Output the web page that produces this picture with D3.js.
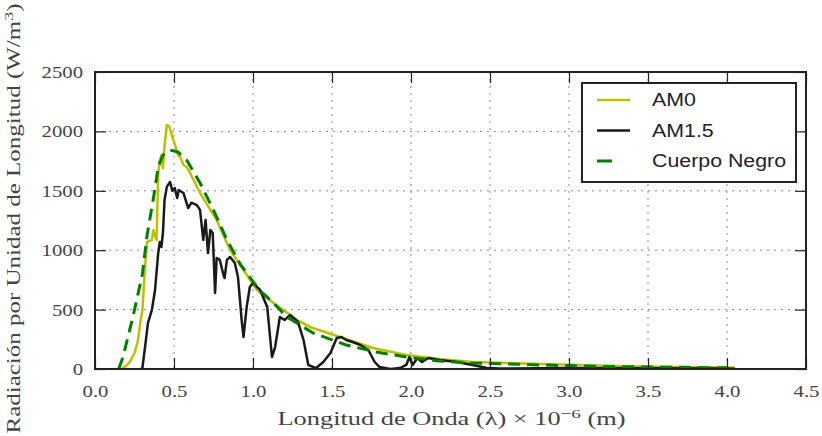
<!DOCTYPE html>
<html>
<head>
<meta charset="utf-8">
<script src="https://cdn.jsdelivr.net/npm/d3@7"></script>
<style>
  body { margin: 0; background: #fff; }
  svg { display: block; }
</style>
</head>
<body>
<div id="chart"></div>
<script>
// >-----------------< Data >-------------------<
const xTicks = [0, 0.5, 1.0, 1.5, 2.0, 2.5, 3.0, 3.5, 4.0, 4.5];
const yTicks = [0, 500, 1000, 1500, 2000, 2500];

// AM0 (fuera de la atmosfera)
const am0Wl = [0.17, 0.20, 0.22, 0.25, 0.27, 0.29, 0.30, 0.32, 0.33, 0.35, 0.36, 0.37, 0.38, 0.39,
  0.40, 0.41, 0.42, 0.43, 0.44, 0.455, 0.47, 0.49, 0.51, 0.525, 0.54, 0.56, 0.58, 0.60, 0.665,
  0.77, 0.855, 0.94, 1.025, 1.13, 1.28, 1.36, 1.55, 1.76, 1.97, 2.18, 2.39, 2.61, 2.82, 3.0,
  3.3, 3.6, 4.0, 4.05];
const am0Val = [0, 30, 59, 135, 227, 420, 497, 918, 1069, 1080, 1086, 1170, 1120, 1086,
  1650, 1750, 1800, 1690, 1880, 2054, 2040, 1953, 1869, 1800, 1785, 1717, 1700, 1655, 1481,
  1254, 1002, 833, 665, 556, 412, 354, 269, 177, 118, 84, 59, 50, 42, 35,
  25, 18, 12, 10];

// AM1.5 (superficie)
const am15Wl = [0.29, 0.30, 0.32, 0.335, 0.36, 0.38, 0.40, 0.41, 0.42, 0.43, 0.44, 0.455, 0.475,
  0.49, 0.505, 0.52, 0.53, 0.56, 0.59, 0.61, 0.645, 0.665, 0.685, 0.70, 0.715, 0.73, 0.745,
  0.76, 0.77, 0.79, 0.81, 0.82, 0.835, 0.855, 0.885, 0.905, 0.93, 0.94, 0.96, 0.98, 1.0,
  1.045, 1.09, 1.12, 1.14, 1.17, 1.20, 1.235, 1.285, 1.32, 1.35, 1.40, 1.445, 1.49, 1.53,
  1.56, 1.59, 1.63, 1.68, 1.73, 1.77, 1.80, 1.87, 1.93, 1.97, 1.99, 2.01, 2.04, 2.07, 2.11,
  2.18, 2.29, 2.39, 2.48, 2.56, 3.0, 3.5, 4.0, 4.05];
const am15Val = [0, 8, 219, 387, 497, 665, 976, 1069, 1027, 1145, 1423, 1535, 1574,
  1500, 1524, 1440, 1507, 1481, 1355, 1400, 1380, 1338, 1086, 1254, 976, 1170, 1145,
  640, 934, 918, 808, 766, 918, 943, 892, 774, 387, 269, 522, 690, 724,
  665, 522, 101, 185, 438, 412, 455, 396, 244, 34, 8, 59, 135, 261,
  269, 244, 227, 202, 160, 59, 17, 0, 8, 34, 101, 34, 93, 59, 93,
  76, 59, 34, 8, 4, 8, 6, 4, 2];

// Cuerpo negro
const bbWl = [0.15, 0.177, 0.24, 0.30, 0.33, 0.37, 0.40, 0.43, 0.475, 0.525, 0.58, 0.665,
  0.75, 0.835, 0.92, 1.04, 1.11, 1.215, 1.38, 1.59, 1.78, 1.97, 2.18, 2.39, 2.61, 2.82,
  3.2, 3.6, 4.0];
const bbVal = [0, 101, 438, 800, 1130, 1440, 1700, 1801, 1843, 1827, 1759, 1566,
  1338, 1086, 880, 665, 581, 438, 303, 202, 143, 101, 67, 50, 42, 34,
  22, 15, 10];

const series = [
  { name: "AM0", wl: am0Wl, val: am0Val, color: "#bfbf00", dash: null, width: 2.5 },
  { name: "AM1.5", wl: am15Wl, val: am15Val, color: "#1a1a1a", dash: null, width: 2.5 },
  { name: "Cuerpo Negro", wl: bbWl, val: bbVal, color: "#008000", dash: "12,7", width: 3 }
];

// >-----------------< Layout >-------------------<
const width = 822, height = 436;
const margin = { top: 72, right: 16, bottom: 67, left: 95 };
const plotW = width - margin.left - margin.right;
const plotH = height - margin.top - margin.bottom;
const serif = "'Liberation Serif', 'Times New Roman', serif";
const sans = "'Liberation Sans', Arial, sans-serif";
const stretch = 1.22; // the reference is wider than tall
const textColor = "#444";

// widen text glyphs like in the reference
function widen(sel, k) {
  sel.each(function () {
    const w = this.getComputedTextLength();
    d3.select(this).attr("textLength", w * k).attr("lengthAdjust", "spacingAndGlyphs");
  });
}

const svg = d3.select("#chart").append("svg")
  .attr("width", width)
  .attr("height", height);

const g = svg.append("g")
  .attr("transform", `translate(${margin.left},${margin.top})`);

const x = d3.scaleLinear().domain([0, 4.5]).range([0, plotW]);
const y = d3.scaleLinear().domain([0, 2500]).range([plotH, 0]);

// Grid
g.append("g").selectAll("line").data(xTicks.slice(1, -1)).enter().append("line")
  .attr("x1", d => x(d)).attr("x2", d => x(d))
  .attr("y1", 0).attr("y2", plotH)
  .attr("stroke", "#8a8a8a").attr("stroke-width", 1).attr("stroke-dasharray", "2,5");
g.append("g").selectAll("line").data(yTicks.slice(1, -1)).enter().append("line")
  .attr("x1", 0).attr("x2", plotW)
  .attr("y1", d => y(d)).attr("y2", d => y(d))
  .attr("stroke", "#8a8a8a").attr("stroke-width", 1).attr("stroke-dasharray", "2,5");

// Curves
svg.append("defs").append("clipPath").attr("id", "plotclip")
  .append("rect").attr("width", plotW).attr("height", plotH);

series.forEach(s => {
  const pts = s.wl.map((w, i) => [w, s.val[i]]);
  g.append("path")
    .datum(pts)
    .attr("clip-path", "url(#plotclip)")
    .attr("fill", "none")
    .attr("stroke", s.color)
    .attr("stroke-width", s.width)
    .attr("stroke-linejoin", "round")
    .attr("stroke-dasharray", s.dash)
    .attr("d", d3.line().x(d => x(d[0])).y(d => y(d[1])));
});

// Axes (ticks inside, all four sides)
const tickLen = 11;
function styleAxis(sel, showText) {
  sel.select(".domain").remove();
  sel.selectAll(".tick line").attr("stroke", "#222").attr("stroke-width", 1.2);
  const t = sel.selectAll("text")
    .attr("font-family", serif).attr("font-size", 17).attr("fill", textColor);
  if (showText) widen(t, stretch); else t.style("display", "none");
}

g.append("g").attr("transform", `translate(0,${plotH})`)
  .call(d3.axisBottom(x).tickValues(xTicks).tickFormat(d3.format(".1f")).tickSize(-tickLen).tickPadding(16))
  .call(s => styleAxis(s, true));
g.append("g")
  .call(d3.axisTop(x).tickValues(xTicks).tickSize(-tickLen))
  .call(s => styleAxis(s, false));
g.append("g")
  .call(d3.axisLeft(y).tickValues(yTicks).tickFormat(d3.format("d")).tickSize(-tickLen).tickPadding(12))
  .call(s => styleAxis(s, true));
g.append("g").attr("transform", `translate(${plotW},0)`)
  .call(d3.axisRight(y).tickValues(yTicks).tickSize(-tickLen))
  .call(s => styleAxis(s, false));

// Frame
g.append("rect")
  .attr("width", plotW).attr("height", plotH)
  .attr("fill", "none").attr("stroke", "#222").attr("stroke-width", 2);

// Legend
const legend = g.append("g").attr("transform", `translate(${plotW - 224},11)`);
legend.append("rect")
  .attr("width", 214).attr("height", 99)
  .attr("fill", "#fff").attr("stroke", "#222").attr("stroke-width", 2);
series.forEach((s, i) => {
  const ly = 17 + i * 30.5;
  legend.append("line")
    .attr("x1", 15).attr("x2", 48).attr("y1", ly).attr("y2", ly)
    .attr("stroke", s.color).attr("stroke-width", s.width)
    .attr("stroke-dasharray", s.dash ? "15,40" : null);
  legend.append("text")
    .attr("x", 70).attr("y", ly + 6)
    .attr("font-family", sans).attr("font-size", 17.5).attr("fill", "#222")
    .text(s.name)
    .call(t => widen(t, stretch));
});

// Axis labels
const xl = svg.append("text")
  .attr("x", margin.left + plotW / 2 + 1).attr("y", 425)
  .attr("text-anchor", "middle")
  .attr("font-family", serif).attr("font-size", 18).attr("fill", textColor)
  .attr("textLength", 348).attr("lengthAdjust", "spacingAndGlyphs");
xl.append("tspan").text("Longitud de Onda (λ)  × 10");
xl.append("tspan").attr("dy", -7).attr("font-size", 13).text("−6");
xl.append("tspan").attr("dy", 7).text(" (m)");

const yl = svg.append("text")
  .attr("transform", `translate(20,${margin.top + plotH / 2 - 2}) rotate(-90)`)
  .attr("text-anchor", "middle")
  .attr("font-family", serif).attr("font-size", 18).attr("fill", textColor)
  .attr("textLength", 430).attr("lengthAdjust", "spacingAndGlyphs");
yl.append("tspan").text("Radiación por Unidad de Longitud (W/m");
yl.append("tspan").attr("dy", -7).attr("font-size", 13).text("3");
yl.append("tspan").attr("dy", 7).text(")");
</script>
</body>
</html>
